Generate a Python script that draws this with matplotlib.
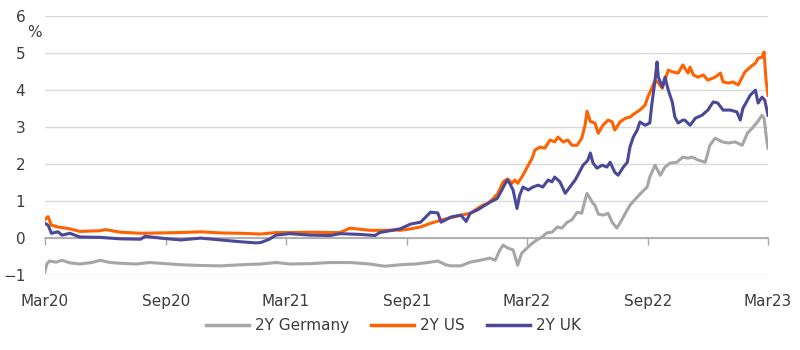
import matplotlib
matplotlib.use("Agg")
import matplotlib.pyplot as plt
import pandas as pd

plt.rcParams['font.family'] = ['DejaVu Sans']

# 2Y government bond yields, %
de_dates = ['2020-03-15', '2020-03-18', '2020-03-22', '2020-04-01', '2020-04-10', '2020-04-22',
            '2020-05-07', '2020-05-25', '2020-06-07', '2020-06-22', '2020-07-07', '2020-08-01',
            '2020-08-20', '2020-09-06', '2020-10-07', '2020-11-06', '2020-12-06', '2021-01-06',
            '2021-02-05', '2021-02-28', '2021-03-21', '2021-04-21', '2021-05-21', '2021-06-20',
            '2021-07-20', '2021-08-12', '2021-09-04', '2021-09-28', '2021-10-20', '2021-10-31',
            '2021-11-12', '2021-11-20', '2021-12-05', '2021-12-19', '2022-01-03', '2022-01-18',
            '2022-01-26', '2022-02-02', '2022-02-07', '2022-02-14', '2022-02-22', '2022-03-01',
            '2022-03-07', '2022-03-15', '2022-03-23', '2022-03-30', '2022-04-07', '2022-04-14',
            '2022-04-22', '2022-04-30', '2022-05-07', '2022-05-15', '2022-05-22', '2022-05-30',
            '2022-06-06', '2022-06-11', '2022-06-14', '2022-06-20', '2022-06-23', '2022-06-26',
            '2022-07-01', '2022-07-08', '2022-07-16', '2022-07-22', '2022-07-29', '2022-08-03',
            '2022-08-11', '2022-08-18', '2022-08-29', '2022-09-05', '2022-09-13', '2022-09-17',
            '2022-09-25', '2022-10-03', '2022-10-10', '2022-10-18', '2022-10-28', '2022-11-06',
            '2022-11-14', '2022-11-20', '2022-11-29', '2022-12-10', '2022-12-17', '2022-12-25',
            '2023-01-05', '2023-01-14', '2023-01-24', '2023-02-04', '2023-02-12', '2023-02-19',
            '2023-02-27', '2023-03-06', '2023-03-09', '2023-03-13', '2023-03-15']
de_vals = [-0.92, -0.70, -0.62, -0.65, -0.60, -0.67,
           -0.70, -0.66, -0.60, -0.66, -0.68, -0.70,
           -0.66, -0.68, -0.72, -0.74, -0.75, -0.72,
           -0.70, -0.66, -0.70, -0.69, -0.66, -0.66,
           -0.70, -0.76, -0.72, -0.70, -0.65, -0.62,
           -0.72, -0.75, -0.75, -0.65, -0.60, -0.54,
           -0.60, -0.32, -0.19, -0.27, -0.32, -0.73,
           -0.41, -0.27, -0.14, -0.05, 0.03, 0.14,
           0.16, 0.30, 0.27, 0.43, 0.49, 0.70,
           0.67, 1.03, 1.21, 1.03, 0.94, 0.89,
           0.65, 0.62, 0.67, 0.43, 0.27, 0.41,
           0.67, 0.89, 1.11, 1.24, 1.38, 1.65,
           1.97, 1.70, 1.92, 2.03, 2.05, 2.19,
           2.16, 2.19, 2.11, 2.05, 2.51, 2.70,
           2.60, 2.57, 2.60, 2.51, 2.84, 2.97,
           3.14, 3.32, 3.24, 2.65, 2.43]

us_dates = ['2020-03-15', '2020-03-20', '2020-03-25', '2020-04-04', '2020-04-22', '2020-05-07',
            '2020-06-07', '2020-06-15', '2020-07-07', '2020-08-07', '2020-09-06', '2020-10-07',
            '2020-11-06', '2020-12-06', '2021-01-06', '2021-02-05', '2021-02-28', '2021-03-21',
            '2021-04-21', '2021-05-21', '2021-06-05', '2021-06-20', '2021-07-05', '2021-07-20',
            '2021-08-12', '2021-08-28', '2021-09-04', '2021-09-20', '2021-10-05', '2021-10-20',
            '2021-11-12', '2021-12-05', '2021-12-19', '2021-12-30', '2022-01-07', '2022-01-15',
            '2022-01-23', '2022-01-30', '2022-02-07', '2022-02-14', '2022-02-20', '2022-02-25',
            '2022-03-01', '2022-03-09', '2022-03-17', '2022-03-23', '2022-03-27', '2022-04-04',
            '2022-04-11', '2022-04-19', '2022-04-26', '2022-05-01', '2022-05-09', '2022-05-16',
            '2022-05-22', '2022-05-30', '2022-06-06', '2022-06-11', '2022-06-14', '2022-06-19',
            '2022-06-26', '2022-07-01', '2022-07-08', '2022-07-16', '2022-07-22', '2022-07-26',
            '2022-08-03', '2022-08-11', '2022-08-18', '2022-08-26', '2022-09-02', '2022-09-10',
            '2022-09-14', '2022-09-20', '2022-09-25', '2022-09-30', '2022-10-06', '2022-10-10',
            '2022-10-15', '2022-10-22', '2022-10-30', '2022-11-06', '2022-11-14', '2022-11-17',
            '2022-11-22', '2022-11-29', '2022-12-07', '2022-12-14', '2022-12-25', '2023-01-02',
            '2023-01-06', '2023-01-14', '2023-01-21', '2023-01-29', '2023-02-04', '2023-02-08',
            '2023-02-16', '2023-02-24', '2023-02-28', '2023-03-06', '2023-03-09', '2023-03-12',
            '2023-03-15']
us_vals = [0.50, 0.58, 0.35, 0.30, 0.25, 0.18,
           0.20, 0.23, 0.16, 0.13, 0.14, 0.15,
           0.17, 0.14, 0.13, 0.11, 0.15, 0.15,
           0.16, 0.15, 0.15, 0.27, 0.24, 0.21,
           0.21, 0.22, 0.21, 0.25, 0.30, 0.40,
           0.52, 0.62, 0.67, 0.80, 0.89, 0.94,
           1.07, 1.21, 1.52, 1.60, 1.48, 1.57,
           1.48, 1.70, 1.97, 2.16, 2.38, 2.46,
           2.43, 2.65, 2.60, 2.73, 2.60, 2.65,
           2.51, 2.51, 2.70, 3.05, 3.43, 3.15,
           3.11, 2.83, 3.05, 3.19, 3.14, 2.92,
           3.14, 3.24, 3.27, 3.38, 3.46, 3.60,
           3.81, 4.05, 4.27, 4.19, 4.05, 4.27,
           4.54, 4.49, 4.46, 4.68, 4.46, 4.62,
           4.41, 4.35, 4.41, 4.27, 4.35, 4.46,
           4.22, 4.19, 4.22, 4.14, 4.35, 4.49,
           4.62, 4.73, 4.86, 4.89, 5.03, 4.27,
           3.86]

uk_dates = ['2020-03-15', '2020-03-20', '2020-03-25', '2020-04-04', '2020-04-10', '2020-04-22',
            '2020-05-07', '2020-06-07', '2020-07-07', '2020-08-07', '2020-08-14', '2020-09-06',
            '2020-10-07', '2020-11-06', '2020-12-06', '2021-01-06', '2021-01-29', '2021-02-05',
            '2021-02-18', '2021-02-28', '2021-03-21', '2021-04-21', '2021-05-21', '2021-06-05',
            '2021-07-05', '2021-07-28', '2021-08-04', '2021-08-20', '2021-09-04', '2021-09-20',
            '2021-10-05', '2021-10-20', '2021-10-31', '2021-11-05', '2021-11-20', '2021-12-05',
            '2021-12-13', '2021-12-19', '2021-12-30', '2022-01-07', '2022-01-18', '2022-01-29',
            '2022-02-05', '2022-02-13', '2022-02-17', '2022-02-22', '2022-02-28', '2022-03-04',
            '2022-03-09', '2022-03-17', '2022-03-24', '2022-04-01', '2022-04-08', '2022-04-16',
            '2022-04-22', '2022-04-26', '2022-05-04', '2022-05-12', '2022-05-19', '2022-05-27',
            '2022-05-31', '2022-06-08', '2022-06-15', '2022-06-19', '2022-06-23', '2022-06-29',
            '2022-07-07', '2022-07-14', '2022-07-19', '2022-07-26', '2022-07-31', '2022-08-08',
            '2022-08-14', '2022-08-18', '2022-08-23', '2022-08-29', '2022-09-02', '2022-09-10',
            '2022-09-17', '2022-09-20', '2022-09-25', '2022-09-28', '2022-09-30', '2022-10-06',
            '2022-10-10', '2022-10-15', '2022-10-21', '2022-10-25', '2022-10-30', '2022-11-06',
            '2022-11-09', '2022-11-17', '2022-11-25', '2022-12-05', '2022-12-14', '2022-12-22',
            '2022-12-29', '2023-01-06', '2023-01-17', '2023-01-27', '2023-02-01', '2023-02-05',
            '2023-02-12', '2023-02-16', '2023-02-24', '2023-02-28', '2023-03-06', '2023-03-10',
            '2023-03-15']
uk_vals = [0.40, 0.35, 0.13, 0.17, 0.08, 0.13,
           0.03, 0.02, -0.02, -0.03, 0.05, 0.00,
           -0.05, 0.00, -0.05, -0.10, -0.13, -0.12,
           -0.03, 0.08, 0.12, 0.08, 0.07, 0.12,
           0.10, 0.07, 0.15, 0.20, 0.25, 0.38,
           0.43, 0.70, 0.68, 0.43, 0.57, 0.62,
           0.45, 0.67, 0.76, 0.85, 0.97, 1.07,
           1.30, 1.57, 1.48, 1.30, 0.80, 1.16,
           1.38, 1.30, 1.38, 1.43, 1.38, 1.57,
           1.52, 1.65, 1.52, 1.21, 1.38, 1.57,
           1.70, 1.97, 2.10, 2.30, 2.03, 1.89,
           1.97, 1.92, 2.05, 1.78, 1.70, 1.92,
           2.05, 2.46, 2.73, 2.92, 3.14, 3.05,
           3.11, 3.60, 4.27, 4.76, 4.35, 4.08,
           4.35, 4.00, 3.68, 3.27, 3.11, 3.19,
           3.19, 3.05, 3.24, 3.32, 3.46, 3.68,
           3.65, 3.46, 3.46, 3.41, 3.19, 3.51,
           3.73, 3.86, 4.00, 3.65, 3.81, 3.73,
           3.32]

tick_dates = ['2020-03-15', '2020-09-15', '2021-03-15', '2021-09-15',
              '2022-03-15', '2022-09-15', '2023-03-15']
tick_labels = ['Mar20', 'Sep20', 'Mar21', 'Sep21', 'Mar22', 'Sep22', 'Mar23']

txt = '#3c3c3c'

fig = plt.figure(figsize=(8, 3.5), dpi=100)
ax = fig.add_axes([0.056, 0.214, 0.904, 0.740])

ax.plot(pd.to_datetime(de_dates), de_vals, color='#a6a6a6', lw=2.2, label='2Y Germany')
ax.plot(pd.to_datetime(us_dates), us_vals, color='#ff6200', lw=2.2, label='2Y US')
ax.plot(pd.to_datetime(uk_dates), uk_vals, color='#4b4897', lw=2.2, label='2Y UK')

ax.set_ylim(-1, 6)
ax.set_xlim(pd.Timestamp('2020-03-15'), pd.Timestamp('2023-03-15'))
ax.set_yticks(range(-1, 7))
ax.yaxis.grid(True, color='#d9d9d9', lw=1)
ax.set_axisbelow(True)

for s in ['left', 'right', 'top']:
    ax.spines[s].set_visible(False)
# x axis sits on the zero line, labels stay below the plot
ax.spines['bottom'].set_position(('data', 0))
ax.spines['bottom'].set_color('#a6a6a6')
ax.spines['bottom'].set_linewidth(1.2)
ax.spines['bottom'].set_zorder(1)
ax.set_xticks(pd.to_datetime(tick_dates))
ax.set_xticklabels(tick_labels)
ax.tick_params(axis='x', length=5, color='#a6a6a6', width=1, pad=35, labelsize=11, labelcolor=txt)
ax.tick_params(axis='y', length=0, pad=14, labelsize=11, labelcolor=txt)

ax.text(-0.025, 0.935, '%', transform=ax.transAxes, fontsize=11, color=txt, va='center')

leg = fig.legend(loc='center', bbox_to_anchor=(0.492, 0.07), ncol=3, frameon=False,
                 fontsize=11, handlelength=2.8, handletextpad=0.4, columnspacing=1.45)
for t in leg.get_texts():
    t.set_color(txt)
for h in leg.legend_handles:
    h.set_linewidth(2.5)

fig.savefig('out.png', dpi=100)
